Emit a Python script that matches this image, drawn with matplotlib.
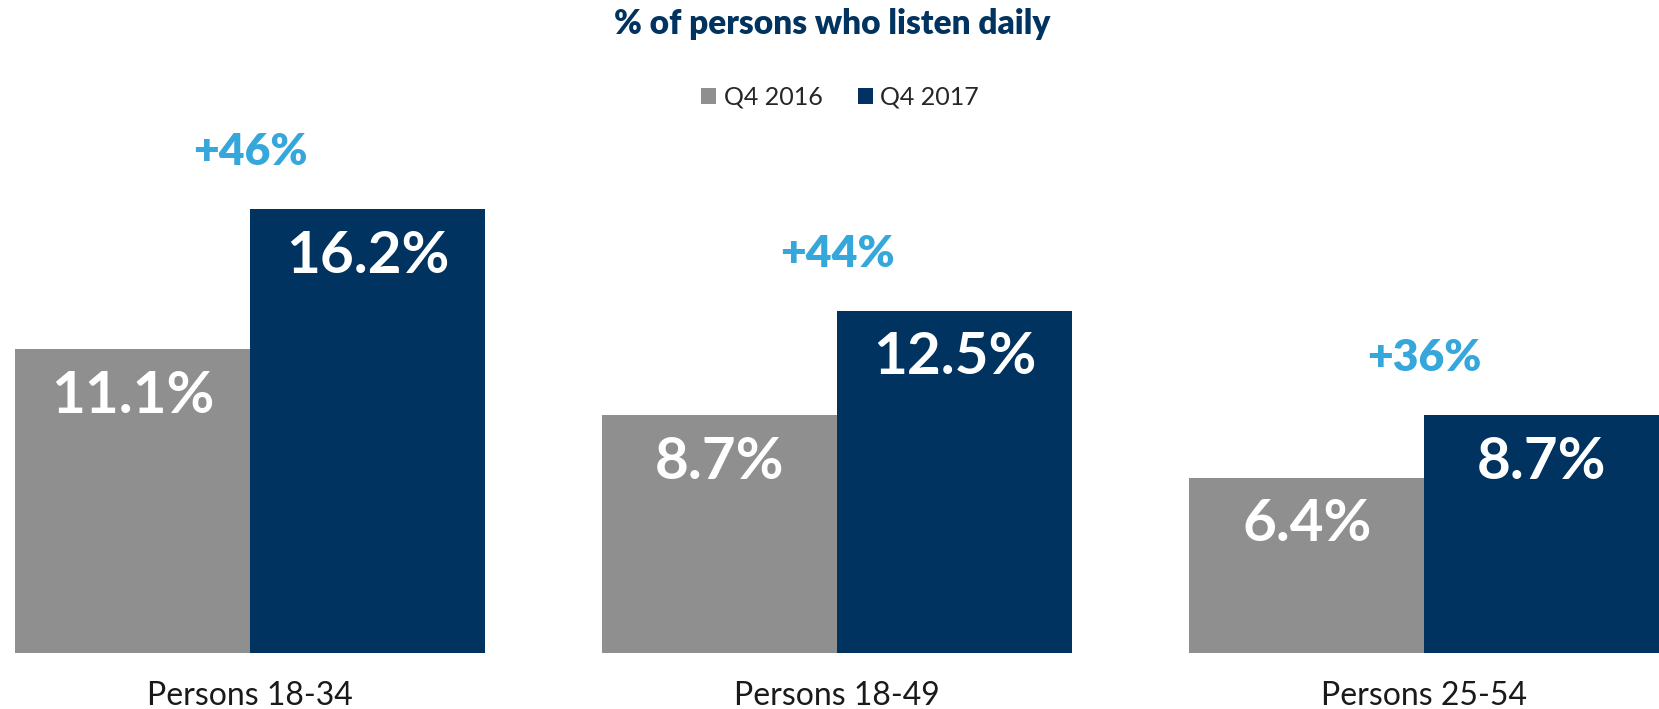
import numpy as np
import matplotlib
matplotlib.use('Agg')
import matplotlib.pyplot as plt

plt.rcParams['font.family'] = ['Lato', 'DejaVu Sans']

# daily listening share by age group
groups = ['Persons 18-34', 'Persons 18-49', 'Persons 25-54']
q4_2016 = [11.1, 8.7, 6.4]
q4_2017 = [16.2, 12.5, 8.7]
series_names = ['Q4 2016', 'Q4 2017']

GRAY = '#8f8f8f'
NAVY = '#00335f'
LIGHT_BLUE = '#35a7db'

fig = plt.figure(figsize=(16.59, 7.09), dpi=100)
ax = fig.add_axes([0, 56 / 709, 1, 547.6 / 709])

x = np.arange(len(groups))
w = 0.4
b1 = ax.bar(x - w / 2, q4_2016, w, color=GRAY, label=series_names[0])
b2 = ax.bar(x + w / 2, q4_2017, w, color=NAVY, label=series_names[1])

ax.set_xlim(-0.426, 2.40)
ax.set_ylim(0, 20)
for s in ax.spines.values():
    s.set_visible(False)
ax.set_yticks([])
ax.set_xticks(x)
ax.set_xticklabels(groups, fontsize=23, color='#1a1a1a')
ax.tick_params(axis='x', length=0, pad=20)

# value labels sit inside the top of each bar
for bars, vals in [(b1, q4_2016), (b2, q4_2017)]:
    for rect, v in zip(bars, vals):
        ax.annotate('%.1f%%' % v, xy=(rect.get_x() + rect.get_width() / 2, v),
                    xytext=(0, -34), textcoords='offset points',
                    ha='center', va='center', fontsize=42, fontweight='bold',
                    color='white')

# growth from 2016 to 2017 above each group
for xi, a, b in zip(x, q4_2016, q4_2017):
    pct = round((b / a - 1) * 100)
    ax.annotate('+%d%%' % pct, xy=(xi, b), xytext=(0, 41),
                textcoords='offset points', ha='center', va='center',
                fontsize=32, fontweight='heavy', color=LIGHT_BLUE)

fig.text(832 / 1659, 1 - 24 / 709, '% of persons who listen daily',
         ha='center', va='center', fontsize=24, fontweight='heavy', color=NAVY)

leg = fig.legend(handles=[b1, b2], labels=series_names, loc='center',
                 bbox_to_anchor=(840 / 1659, 1 - 97 / 709), ncol=2, frameon=False,
                 fontsize=18, handlelength=0.6, handleheight=0.6,
                 handletextpad=0.3, columnspacing=1.4)
for t in leg.get_texts():
    t.set_color('#262626')

fig.savefig('out.png', dpi=100)
